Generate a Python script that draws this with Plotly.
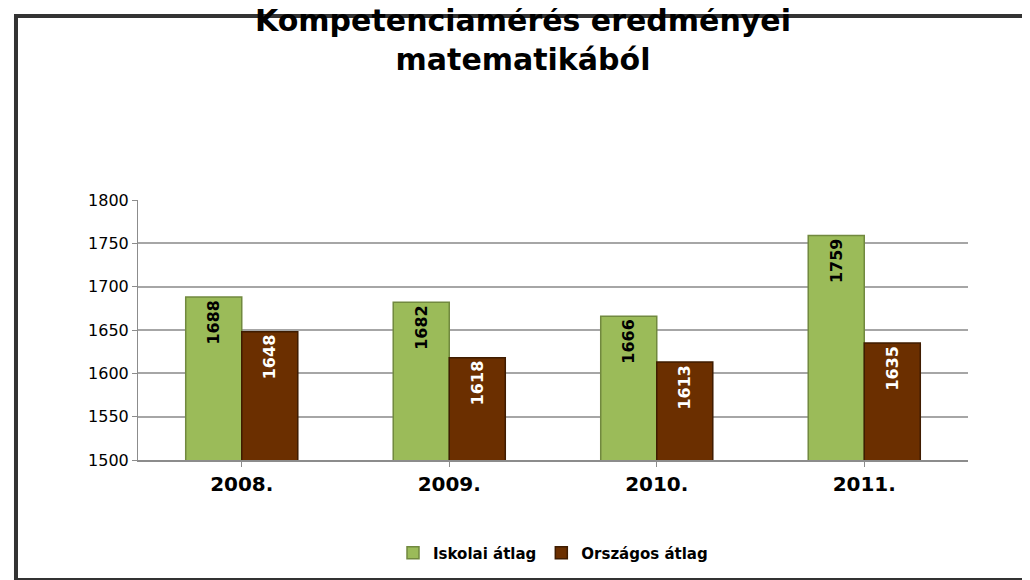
import plotly.graph_objects as go

years = ["2008.", "2009.", "2010.", "2011."]
iskolai = [1688, 1682, 1666, 1759]
orszagos = [1648, 1618, 1613, 1635]

fig = go.Figure()
fig.add_trace(go.Bar(
    x=years, y=iskolai, name="Iskolai átlag",
    marker=dict(color="#9BBB59", line=dict(color="#71893F", width=1.5)),
    text=[str(v) for v in iskolai], textposition="inside", textangle=-90,
    insidetextanchor="end",
    textfont=dict(family="DejaVu Sans", size=21, color="black", weight="bold"),
))
fig.add_trace(go.Bar(
    x=years, y=orszagos, name="Országos átlag",
    marker=dict(color="#6B2F00", line=dict(color="#3F1C00", width=1.5)),
    text=[str(v) for v in orszagos], textposition="inside", textangle=-90,
    insidetextanchor="end",
    textfont=dict(family="DejaVu Sans", size=16, color="white", weight="bold"),
))

fig.update_layout(
    width=1030, height=580,
    margin=dict(l=130, r=70, t=192, b=128, autoexpand=False),
    paper_bgcolor="white", plot_bgcolor="white",
    barmode="group", bargap=0.46, bargroupgap=0,
    title=dict(text="<b>Kompetenciamérés eredményei<br>matematikából</b>",
               x=0.5, xanchor="center", y=0.96, yanchor="top",
               font=dict(family="DejaVu Sans", size=30, color="black")),
    font=dict(family="DejaVu Sans", color="black"),
    showlegend=True,
    legend=dict(orientation="h", x=0.5, xanchor="center", y=-0.358, yanchor="middle",
                font=dict(size=15, family="DejaVu Sans", weight="bold"),
                traceorder="normal", bgcolor="rgba(0,0,0,0)"),
    uniformtext=dict(mode="show", minsize=10),
)
fig.update_yaxes(range=[1500, 1800], dtick=50, showgrid=True, gridcolor="#A6A6A6",
                 gridwidth=1.5, showline=True, linecolor="#8C8C8C", ticks="outside",
                 ticklen=5, tickcolor="#8C8C8C",
                 tickfont=dict(size=16, family="DejaVu Sans"))
fig.update_xaxes(showline=True, linecolor="#8C8C8C", linewidth=1.5,
                 tickfont=dict(size=20, family="DejaVu Sans", weight="bold"),
                 ticks="outside", tickcolor="#8C8C8C")

fig.add_shape(type="rect", xref="paper", yref="paper",
              x0=-0.147, x1=1.072, y0=-0.4615, y1=1.708,
              line=dict(color="#333333", width=4), layer="below")

fig.write_html("out.html")
